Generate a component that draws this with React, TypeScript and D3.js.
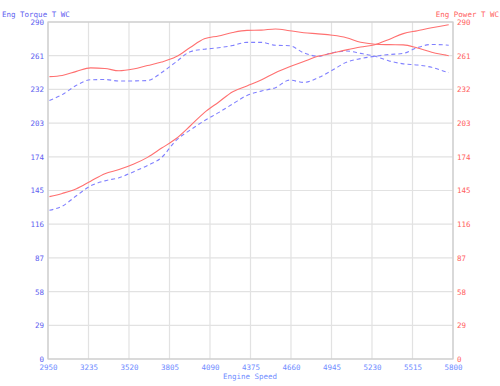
import React, { useEffect, useRef } from "react";
import * as d3 from "d3";

// engine speed samples (rpm)
const rpm = [2960, 3050, 3150, 3250, 3350, 3450, 3550, 3650, 3750, 3850, 3950, 4050, 4150, 4250, 4350,
  4450, 4550, 4650, 4750, 4850, 4950, 5050, 5150, 5250, 5350, 5450, 5550, 5650, 5750, 5770];

// run A (red, solid)
const torqueA = [243, 244, 247.5, 250.5, 250, 248, 249.5, 252.5, 255.5, 260, 268, 275.5, 278, 281, 282.8,
  283, 284, 282.5, 280.8, 279.8, 278.6, 276.5, 272.5, 270.9, 270.5, 270.3, 267.6, 264, 261.5, 261];
const powerA = [139.7, 142.5, 146.5, 153, 159.5, 163, 167.5, 173.5, 181.5, 189.5, 200.5, 212, 221, 230, 235,
  240, 246.4, 251.5, 256, 260.5, 263.2, 266, 268.5, 270.5, 275, 280, 282.5, 285, 287.2, 287.6];

// run B (blue, dashed)
const torqueB = [222.5, 227.5, 235.5, 240.3, 240.5, 239.2, 239.3, 239.6, 246.5, 255.5, 264.4, 266.6, 267.8, 269.8, 272.5,
  272.5, 270, 269.6, 263.5, 260.5, 263.5, 265, 263, 260.5, 256.5, 254, 253, 251, 247.2, 246.5];
const powerB = [128, 131.5, 140.5, 149, 153.3, 156, 161, 166.5, 173.5, 188, 197, 205, 212, 219.5, 226.8,
  230.5, 233.5, 240, 238, 242, 248.4, 255.4, 258.5, 260.5, 262, 263, 268, 270.7, 270.2, 270];

const xTicks = [2950, 3235, 3520, 3805, 4090, 4375, 4660, 4945, 5230, 5515, 5800];
const yTicks = [0, 29, 58, 87, 116, 145, 174, 203, 232, 261, 290];

export default function App() {
  const ref = useRef<SVGSVGElement>(null);

  useEffect(() => {
    const width = 500;
    const height = 386;
    const margin = { top: 22, right: 47, bottom: 27, left: 48 };
    const font = "'DejaVu Sans Mono', monospace";

    const svg = d3.select(ref.current);
    svg.selectAll("*").remove();

    const x = d3.scaleLinear().domain([2950, 5800]).range([margin.left, width - margin.right]);
    const yL = d3.scaleLinear().domain([0, 290]).range([height - margin.bottom, margin.top]);
    const yR = d3.scaleLinear().domain([0, 290]).range([height - margin.bottom, margin.top]);

    // grid
    svg.append("g")
      .selectAll("line")
      .data(xTicks)
      .join("line")
      .attr("x1", (d) => x(d)).attr("x2", (d) => x(d))
      .attr("y1", margin.top).attr("y2", height - margin.bottom)
      .attr("stroke", "#e2e2e2").attr("stroke-width", 1.2);
    svg.append("g")
      .selectAll("line")
      .data(yTicks)
      .join("line")
      .attr("x1", margin.left).attr("x2", width - margin.right)
      .attr("y1", (d) => yL(d)).attr("y2", (d) => yL(d))
      .attr("stroke", "#e2e2e2").attr("stroke-width", 1.2);

    // frame
    svg.append("rect")
      .attr("x", margin.left).attr("y", margin.top)
      .attr("width", width - margin.left - margin.right)
      .attr("height", height - margin.top - margin.bottom)
      .attr("fill", "none").attr("stroke", "#cccccc").attr("stroke-width", 1.2);

    // axes
    const styleAxis = (g: any, color: string) => {
      g.select(".domain").remove();
      g.selectAll(".tick line").remove();
      g.selectAll("text").attr("fill", color).style("font-family", font).style("font-size", "7.5px");
    };

    svg.append("g")
      .attr("transform", `translate(0,${height - margin.bottom})`)
      .call(d3.axisBottom(x).tickValues(xTicks).tickFormat((d) => String(d)).tickSize(0).tickPadding(6))
      .call((g) => styleAxis(g, "#6f8cff"));

    svg.append("g")
      .attr("transform", `translate(${margin.left},0)`)
      .call(d3.axisLeft(yL).tickValues(yTicks).tickFormat((d) => String(d)).tickSize(0).tickPadding(4))
      .call((g) => styleAxis(g, "#6060f0"));

    svg.append("g")
      .attr("transform", `translate(${width - margin.right},0)`)
      .call(d3.axisRight(yR).tickValues(yTicks).tickFormat((d) => String(d)).tickSize(0).tickPadding(4))
      .call((g) => styleAxis(g, "#ff6060"));

    // titles
    svg.append("text").attr("x", 2).attr("y", 16.5).text("Eng Torque T WC")
      .attr("fill", "#6060f0").style("font-family", font).style("font-size", "7.5px");
    svg.append("text").attr("x", 499).attr("y", 16.5).attr("text-anchor", "end").text("Eng Power T WC")
      .attr("fill", "#ff6060").style("font-family", font).style("font-size", "7.5px");
    svg.append("text").attr("x", 250).attr("y", 379).attr("text-anchor", "middle").text("Engine Speed")
      .attr("fill", "#6f8cff").style("font-family", font).style("font-size", "7.5px");

    // series
    const series = [
      { values: torqueB, y: yL, color: "#8080ff", dash: "4,3" },
      { values: powerB, y: yR, color: "#8080ff", dash: "4,3" },
      { values: torqueA, y: yL, color: "#ff7070", dash: null },
      { values: powerA, y: yR, color: "#ff7070", dash: null },
    ];

    series.forEach((s) => {
      const line = d3.line<number>()
        .x((_, i) => x(rpm[i]))
        .y((d) => s.y(d))
        .curve(d3.curveMonotoneX);
      svg.append("path")
        .datum(s.values)
        .attr("d", line)
        .attr("fill", "none")
        .attr("stroke", s.color)
        .attr("stroke-width", 1.1)
        .attr("stroke-dasharray", s.dash);
    });
  }, []);

  return (
    <svg
      ref={ref}
      width={500}
      height={386}
      style={{ position: "absolute", left: 0, top: 0, background: "#fff" }}
    />
  );
}
